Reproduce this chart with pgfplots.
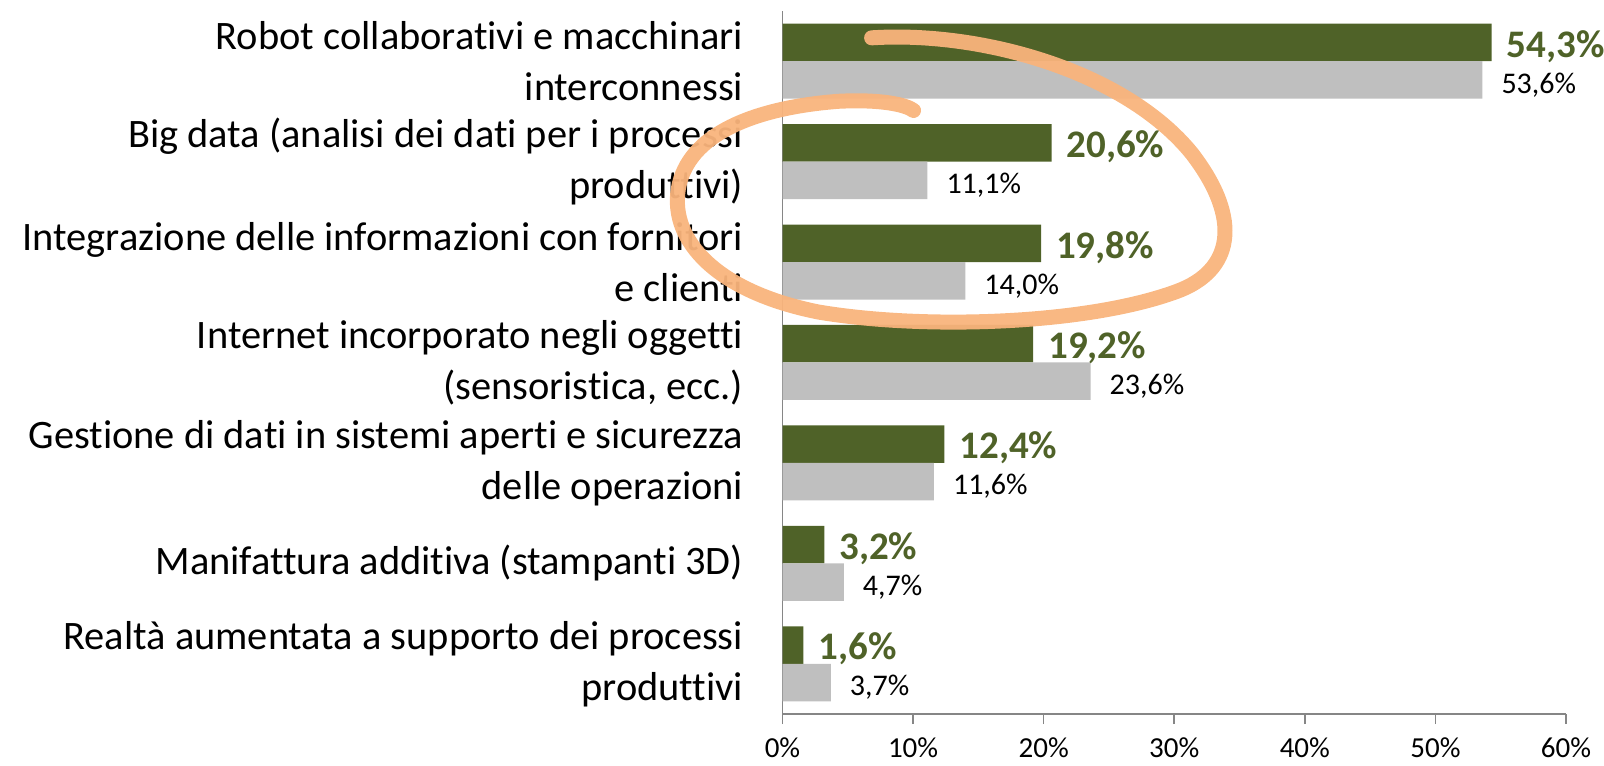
\documentclass[border=0pt]{standalone}
\usepackage{pgfplots}
\pgfplotsset{compat=1.18}
\usepackage{fontspec}
\setmainfont{Carlito}[Ligatures=NoCommon]
\definecolor{olive}{HTML}{4F6228}
\definecolor{barg}{HTML}{BFBFBF}
\definecolor{axg}{HTML}{868686}
\definecolor{marker}{HTML}{F9B47C}

\begin{document}
\begin{tikzpicture}
\begin{axis}[at={(391.25pt,25.5pt)}, anchor=south west, scale only axis,
  width=391.75pt, height=351.5pt,
  xbar, bar width=18.75pt,
  xmin=0, xmax=60, ymin=0.5, ymax=7.5,
  xtick={0,10,...,60},
  xticklabel={\pgfmathprintnumber[assume math mode=true]{\tick}\%},
  ytick={1,...,7},
  yticklabels={{Realtà aumentata a supporto dei processi\\produttivi},
    {Manifattura additiva (stampanti 3D)},
    {Gestione di dati in sistemi aperti e sicurezza\\delle operazioni},
    {Internet incorporato negli oggetti\\(sensoristica, ecc.)},
    {Integrazione delle informazioni con fornitori\\e clienti},
    {Big data (analisi dei dati per i processi\\produttivi)},
    {Robot collaborativi e macchinari\\interconnessi}},
  yticklabel style={align=right, font=\fontsize{20.2}{25.5}\selectfont, inner sep=0pt, xshift=-14.5pt},
  xticklabel style={font=\fontsize{14.5}{16}\selectfont, inner sep=1pt, yshift=-5.5pt},
  axis x line*=bottom, axis y line*=left,
  axis line style={draw=axg, line width=0.8pt, -},
  tick align=outside, major tick length=5pt,
  xtick style={draw=axg, line width=0.8pt},
  ytick style={draw=none},
  clip=false,
  nodes near coords={\pgfmathprintnumber[fixed, fixed zerofill, precision=1, use comma, assume math mode=true]{\pgfplotspointmeta}\%},
  point meta=x,
  ]
\addplot[fill=olive, draw=none, bar shift=9.375pt,
  every node near coord/.append style={anchor=west, text=olive, font=\bfseries\fontsize{19.5}{22}\selectfont, xshift=4pt, yshift=-2pt}]
  coordinates {(1.6,1) (3.2,2) (12.4,3) (19.2,4) (19.8,5) (20.6,6) (54.3,7)};
\addplot[fill=barg, draw=none, bar shift=-9.375pt,
  every node near coord/.append style={anchor=west, text=black, font=\fontsize{15}{17}\selectfont, xshift=6pt, yshift=-2.5pt}]
  coordinates {(3.7,1) (4.7,2) (11.6,3) (23.6,4) (14.0,5) (11.1,6) (53.6,7)};
\end{axis}
% hand-drawn highlight around two rows (units: pixels of the 1568x748 view)
\begin{scope}[x=0.5115pt, y=-0.5115pt, shift={(0pt,382.5pt)}]
\draw[marker, line width=7.5pt, line cap=round, line join=round, opacity=0.95]
  (852,37) .. controls (960,30) and (1100,70) .. (1165,150)
  .. controls (1215,215) and (1205,265) .. (1150,285)
  .. controls (1060,318) and (900,322) .. (800,305)
  .. controls (700,285) and (655,235) .. (663,185)
  .. controls (672,130) and (740,105) .. (820,99)
  .. controls (860,97) and (885,102) .. (893,108);
\end{scope}
\pgfresetboundingbox
\path (0pt,0pt) rectangle (802pt,382.5pt);
\end{tikzpicture}
\end{document}
